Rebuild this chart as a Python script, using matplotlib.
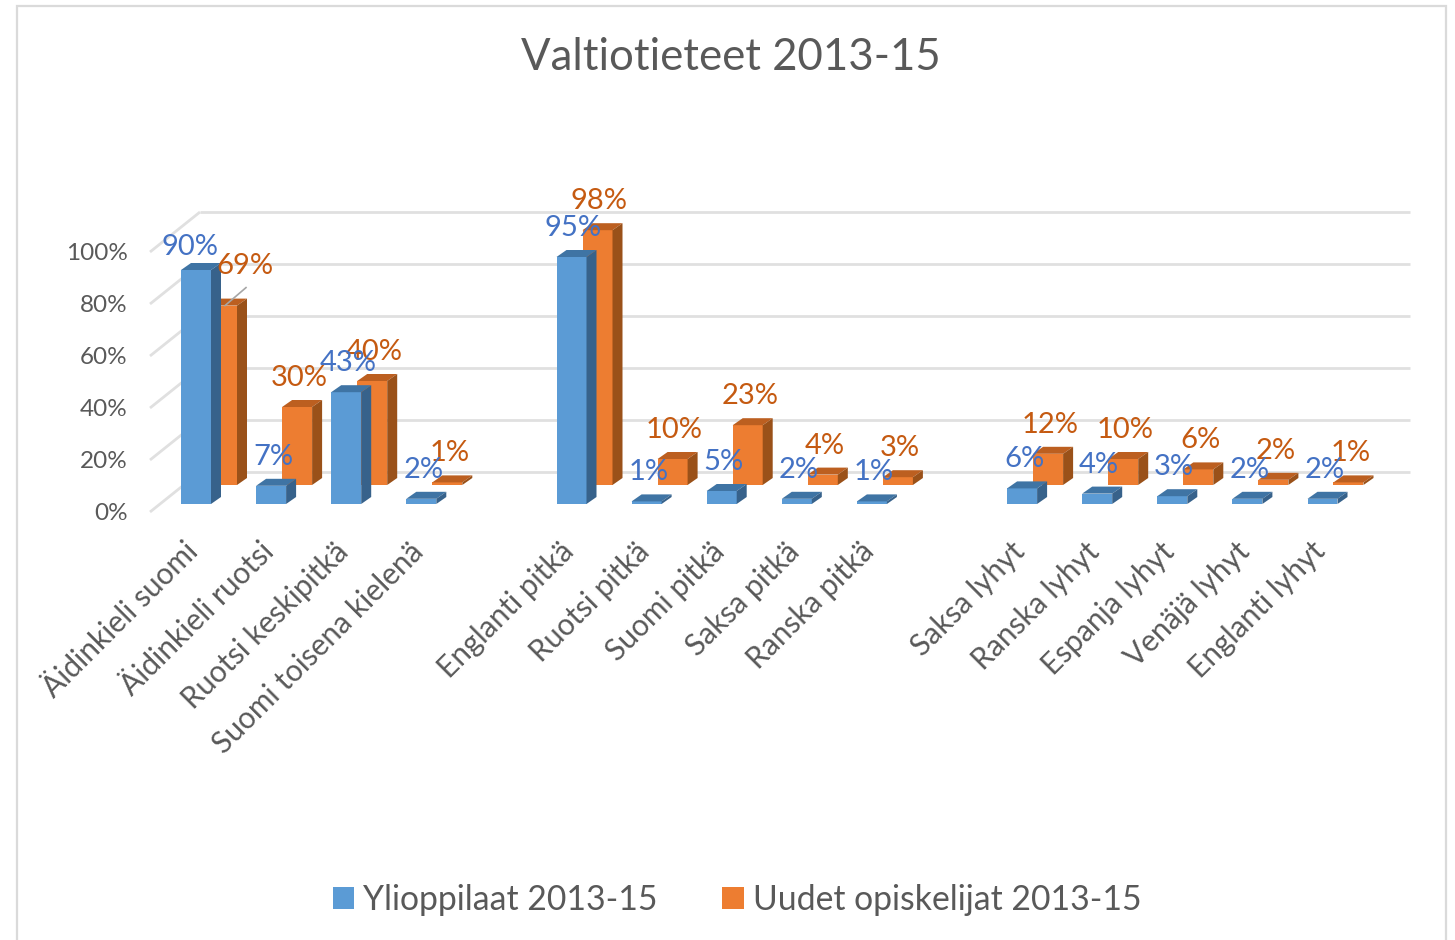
"""Valtiotieteet 2013-15: two series in an Excel-style pseudo-3D column chart."""
import matplotlib

matplotlib.use("Agg")
import matplotlib.pyplot as plt
from matplotlib.patches import Patch, Rectangle
from matplotlib.transforms import ScaledTranslation

# --- Data -----------------------------------------------------------------
categories = [
    "Äidinkieli suomi", "Äidinkieli ruotsi", "Ruotsi keskipitkä", "Suomi toisena kielenä", "",
    "Englanti pitkä", "Ruotsi pitkä", "Suomi pitkä", "Saksa pitkä", "Ranska pitkä", "",
    "Saksa lyhyt", "Ranska lyhyt", "Espanja lyhyt", "Venäjä lyhyt", "Englanti lyhyt",
]
ylioppilaat = [90, 7, 43, 2, None, 95, 1, 5, 2, 1, None, 6, 4, 3, 2, 2]
uudet = [69, 30, 40, 1, None, 98, 10, 23, 4, 3, None, 12, 10, 6, 2, 1]
y_ticks = [0, 20, 40, 60, 80, 100]

# --- Styling --------------------------------------------------------------
W, H = 1455, 940
PX_X = 75.1   # pixels per category
PX_Y = 2.6    # pixels per percent
TEXT = "#595959"
GRID = "#E0E0E0"
BLUE = ("#5B9BD5", "#3F74A4", "#37628B")     # front, top, side
ORANGE = ("#ED7D31", "#BC5F20", "#9A5119")
LABEL_BLUE = "#4472C4"
LABEL_ORANGE = "#C55A11"

plt.rcParams["font.family"] = ["Lato", "DejaVu Sans"]


def dx(px):
    return px / PX_X


def dy(px):
    return px / PX_Y


def draw_bar(ax, i, value, colors, off_x, off_y, zorder):
    """Front, top and side faces of one column; off_* shift it back in depth."""
    hw = dx(15)
    left, right = i - hw + off_x, i + hw + off_x
    base, top = off_y, off_y + value
    ddx, ddy = dx(10), dy(7)
    ax.fill([left, right, right, left], [base, base, top, top],
            color=colors[0], lw=0, zorder=zorder, clip_on=False)
    ax.fill([left, right, right + ddx, left + ddx], [top, top, top + ddy, top + ddy],
            color=colors[1], lw=0, zorder=zorder, clip_on=False)
    ax.fill([right, right + ddx, right + ddx, right],
            [base, base + ddy, top + ddy, top],
            color=colors[2], lw=0, zorder=zorder, clip_on=False)


fig = plt.figure(figsize=(W / 100, H / 100), dpi=100, facecolor="white")
fig.add_artist(Rectangle((17 / W, -0.05), (1446 - 17) / W, 1.05 - 6 / H,
                         transform=fig.transFigure, fill=False,
                         edgecolor="#DADADA", linewidth=1.6))

# axes box = front plane of the chart (x 150..1410 px, 100%..0% = 252..512 px)
ax = fig.add_axes([150 / W, 1 - 512 / H, 1260 / W, 260 / H])
ax.patch.set_alpha(0)
ax.set_xlim((150 - 196) / PX_X, (1410 - 196) / PX_X)
ax.set_ylim(0, 100)
for sp in ax.spines.values():
    sp.set_visible(False)

# walls: diagonal on the side, long gridline at the back
x_left = ax.get_xlim()[0]
x_right = ax.get_xlim()[1]
for v in y_ticks:
    ax.plot([x_left, x_left + dx(50)], [v, v + dy(40)], color=GRID, lw=2,
            clip_on=False, zorder=1, solid_capstyle="butt")
    ax.plot([x_left + dx(50), x_right], [v + dy(40), v + dy(40)], color=GRID, lw=2,
            clip_on=False, zorder=1, solid_capstyle="butt")

# columns: orange row stands behind the blue one
OR_X, OR_Y = dx(26), dy(27)
BL_Y = dy(8)
for i, v in enumerate(uudet):
    if v is not None:
        draw_bar(ax, i, v, ORANGE, OR_X, OR_Y, 2 + i * 0.01)
for i, v in enumerate(ylioppilaat):
    if v is not None:
        draw_bar(ax, i, v, BLUE, 0, BL_Y, 3 + i * 0.01)

# data labels sit 28 px above the column top; the first two were dragged by hand
LABEL_FONT = 21
for i, v in enumerate(uudet):
    if v is None:
        continue
    x = i + OR_X + dx(2)
    y = v + OR_Y + dy(29)
    if i == 0:
        x += dx(21)
        y += dy(11)
        ax.plot([i + OR_X + dx(3), i + OR_X + dx(24)],
                [v + OR_Y, v + OR_Y + dy(18)], color="#A6A6A6", lw=1.2,
                clip_on=False, zorder=4)
    ax.text(x, y, f"{v}%", color=LABEL_ORANGE, fontsize=LABEL_FONT,
            ha="center", va="center", zorder=5, clip_on=False)
for i, v in enumerate(ylioppilaat):
    if v is None:
        continue
    x = i + dx(2)
    y = v + BL_Y + dy(29)
    if i == 0:
        x -= dx(8)
        y -= dy(6)
    ax.text(x, y, f"{v}%", color=LABEL_BLUE, fontsize=LABEL_FONT,
            ha="center", va="center", zorder=6, clip_on=False)

ax.set_yticks(y_ticks)
ax.set_yticklabels([f"{v}%" for v in y_ticks], color=TEXT, fontsize=17.5)
ax.set_xticks(range(len(categories)))
ax.set_xticklabels(categories, color=TEXT, fontsize=21.5, rotation=45,
                   ha="right", va="top", rotation_mode="anchor")
ax.tick_params(axis="y", length=0, pad=16)
ax.tick_params(axis="x", length=0, pad=18)
shift = ScaledTranslation(-12 / 100, 0, fig.dpi_scale_trans)
for lab in ax.get_xticklabels():
    lab.set_transform(lab.get_transform() + shift)

fig.text(731 / W, 1 - 58 / H, "Valtiotieteet 2013-15", color=TEXT, fontsize=31.5,
         ha="center", va="center")

handles = [Patch(facecolor=BLUE[0], label="Ylioppilaat 2013-15"),
           Patch(facecolor=ORANGE[0], label="Uudet opiskelijat 2013-15")]
fig.legend(handles=handles, loc="center", bbox_to_anchor=(737 / W, 1 - 900 / H),
           ncol=2, frameon=False, fontsize=24.3, handlelength=0.63, handleheight=0.63,
           handletextpad=0.27, columnspacing=1.92, labelcolor=TEXT)

fig.savefig("out.png", dpi=100)
